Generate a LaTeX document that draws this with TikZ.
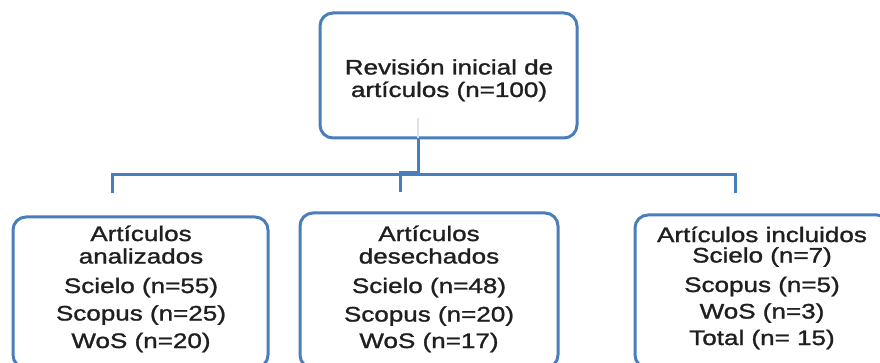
\documentclass[tikz,border=0pt]{standalone}
\usepackage{fontspec}
\setmainfont{Liberation Sans}[FakeStretch=1.24,FakeBold=1.3]
\definecolor{frameblue}{RGB}{74,126,187}
\tikzset{
  box/.style={draw=frameblue, line width=3pt, rounded corners=13pt, fill=white},
  txt/.style={align=center, inner sep=0pt, text=black!88, font=\fontsize{21}{22.5}\selectfont},
  link/.style={draw=frameblue, line width=3pt}
}
\begin{document}
\begin{tikzpicture}[x=1pt,y=-1pt]
\fill[white] (0,0) rectangle (880,363);
\clip (0,0) rectangle (880,363);
% boxes
\draw[box] (320,13) rectangle (577,138);
\coordinate (topb) at (418,138);
\draw[box] (13,217) rectangle (268,368);
\draw[box] (300,213) rectangle (558,368);
\draw[box] (635,215) rectangle (890,368);
% texts (anchor base = baseline of last line)
\node[txt, anchor=base] (t0) at (449,97) {Revisión inicial de\\artículos (n=100)};
\node[txt, anchor=base] (t1) at (141,348) {Artículos\\analizados\\[7pt]Scielo (n=55)\\[5pt]Scopus (n=25)\\[5pt]WoS (n=20)};
\node[txt, anchor=base] (t2) at (429,348) {Artículos\\desechados\\[7pt]Scielo (n=48)\\[6pt]Scopus (n=20)\\[4pt]WoS (n=17)};
\node[txt, anchor=base] (t3) at (762,345) {Artículos incluidos\\[-2pt]Scielo (n=7)\\[7pt]Scopus (n=5)\\[4pt]WoS (n=3)\\[4pt]Total (n= 15)};
% connectors
\coordinate (c1) at (112,193);
\coordinate (c2) at (400,192);
\coordinate (c3) at (735,193);
\draw[frameblue!20, line width=1.5pt] (418,118) -- (topb);
\draw[link] (c1) -- (112,175) -- (735,175) -- (c3);
\draw[link] (topb) -- (418,173) -- (400,173) -- (c2);
\end{tikzpicture}
\end{document}
